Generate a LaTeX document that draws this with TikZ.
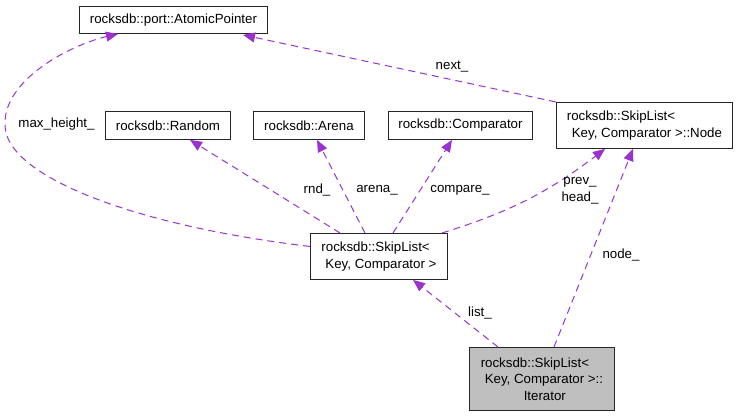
\documentclass[tikz,border=0pt]{standalone}
\usepackage{fontspec}
\setmainfont{Liberation Sans}
\usetikzlibrary{arrows.meta}
\definecolor{edgec}{HTML}{9A32CD}
\definecolor{boxfill}{HTML}{BFBFBF}
\begin{document}
\begin{tikzpicture}[x=1pt,y=-1pt,
  font=\fontsize{13.3}{16.5}\selectfont,
  cls/.style={draw=black!85, line width=0.9pt, anchor=north west, inner sep=0pt, align=left},
  rel/.style={draw=edgec, line width=1pt, dash pattern=on 7pt off 5pt,
    -{Triangle[length=12pt,width=10pt,fill=edgec]}},
  lbl/.style={inner sep=0pt}]
\useasboundingbox (0,0) rectangle (737,416);
% classes
\node[cls, minimum width=188pt, minimum height=27pt] (ap) at (79,6) {rocksdb::port::AtomicPointer};
\node[cls, minimum width=125pt, minimum height=28pt] (rn) at (105,111) {rocksdb::Random};
\node[cls, minimum width=111pt, minimum height=28pt] (ar) at (253,111) {rocksdb::Arena};
\node[cls, minimum width=144pt, minimum height=28pt] (cm) at (388,111) {rocksdb::Comparator};
\node[cls, minimum width=176pt, minimum height=46pt] (nd) at (556,102) {rocksdb::SkipList<\\\hspace*{5pt}Key, Comparator >::Node};
\node[cls, minimum width=137pt, minimum height=46pt] (sl) at (310,233) {rocksdb::SkipList<\\\hspace*{4pt}Key, Comparator >};
\node[cls, fill=boxfill, minimum width=145pt, minimum height=63pt] (it) at (469,347) {rocksdb::SkipList<\\\hspace*{4pt}Key, Comparator >::\\\hspace*{43pt}Iterator};
% relations
\draw[rel] ([yshift=10pt]sl.west) .. controls (130,225) and (5,175) .. (5,125)
  .. controls (3,80) and (70,45) .. ([xshift=39pt]ap.south west);
\draw[rel] ([xshift=30pt]sl.north west) -- ([xshift=85pt]rn.south west);
\draw[rel] ([xshift=55pt]sl.north west) -- ([xshift=64pt]ar.south west);
\draw[rel] ([xshift=83pt]sl.north west) -- ([xshift=64pt]cm.south west);
\draw[rel] ([xshift=132pt]sl.north west) to[bend right=10] ([xshift=49pt]nd.south west);
\draw[rel] (nd.north west) -- ([xshift=164pt,yshift=-1pt]ap.south west);
\draw[rel] ([xshift=29pt]it.north west) -- ([xshift=103pt]sl.south west);
\draw[rel] ([xshift=85pt]it.north west) -- ([xshift=77pt]nd.south west);
% labels
\node[lbl] (l1) at (56.5,124) {max\_height\_};
\node[lbl] (l2) at (317,190) {rnd\_};
\node[lbl] (l3) at (377,190) {arena\_};
\node[lbl] (l4) at (460,190) {compare\_};
\node[lbl] (l5) at (580,182) {prev\_};
\node[lbl] (l6) at (580,198) {head\_};
\node[lbl] (l7) at (452,67) {next\_};
\node[lbl] (l8) at (480,313) {list\_};
\node[lbl] (l9) at (621,255) {node\_};
\end{tikzpicture}
\end{document}
